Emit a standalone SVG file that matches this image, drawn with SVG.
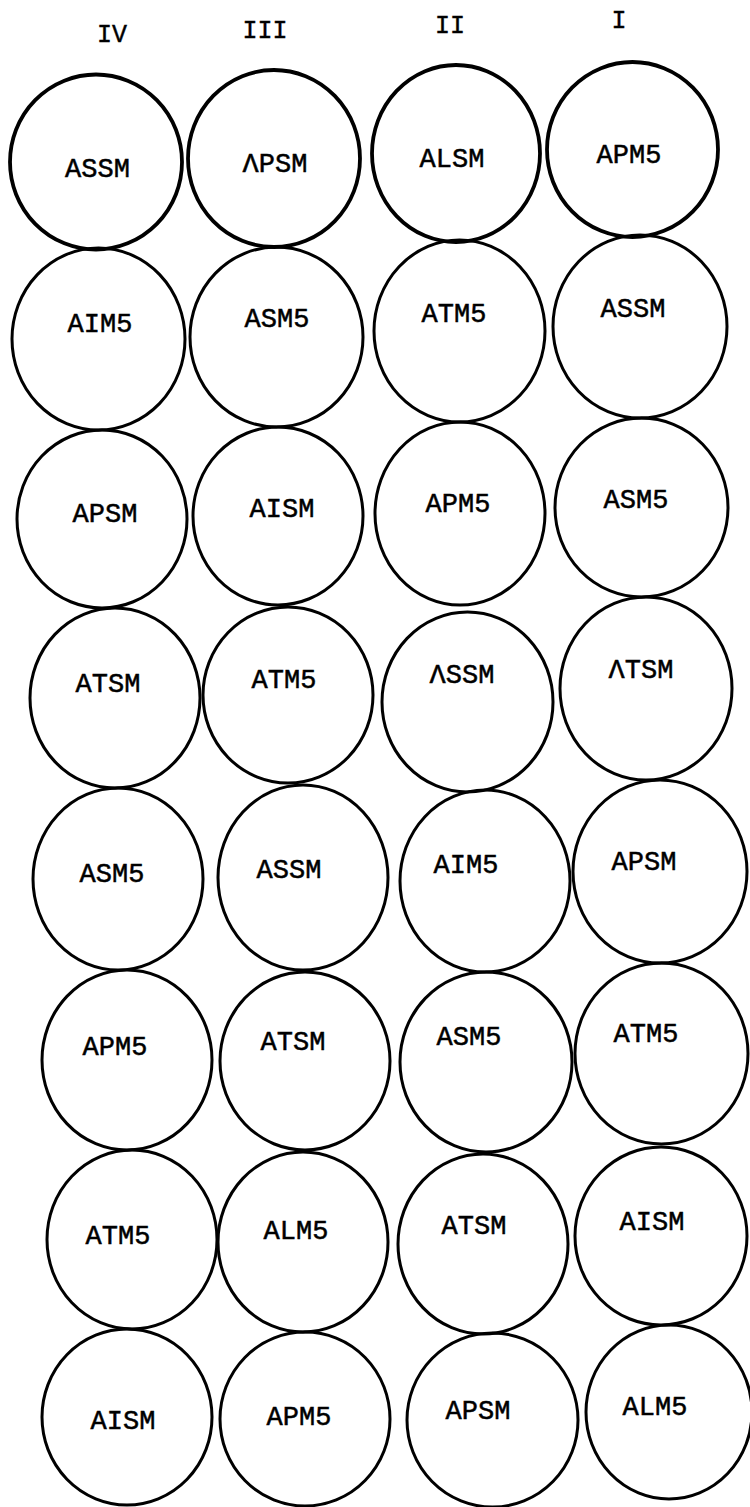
<svg xmlns="http://www.w3.org/2000/svg" width="750" height="1507" viewBox="0 0 750 1507">
<style>
.bg{fill:#fff}
.c{fill:none;stroke:#000;stroke-width:3}
.c1{stroke-width:3.8}
.t{font-family:"Liberation Mono","DejaVu Sans Mono",monospace;font-size:27px;fill:#000;stroke:#000;stroke-width:0.5;text-anchor:middle}
.h{font-family:"Liberation Mono","DejaVu Sans Mono",monospace;font-size:25px;fill:#000;stroke:#000;stroke-width:0.4;text-anchor:middle}
</style>
<rect class="bg" x="0" y="0" width="750" height="1507"/>
<g id="headers">
<text class="h" x="112" y="42">IV</text>
<text class="h" x="265" y="38">III</text>
<text class="h" x="450" y="33">II</text>
<text class="h" x="619" y="28">I</text>
</g>
<g id="connectors"></g>
<g id="r1c4"><ellipse class="c c1" cx="96" cy="162" rx="86" ry="87.5"/><text class="t" x="97.5" y="177">ASSM</text></g>
<g id="r1c3"><ellipse class="c c1" cx="274" cy="158.5" rx="86" ry="88.5"/><text class="t" x="275" y="172">ΛPSM</text></g>
<g id="r1c2"><ellipse class="c c1" cx="456" cy="153.5" rx="84" ry="88.5"/><text class="t" x="452" y="167">ALSM</text></g>
<g id="r1c1"><ellipse class="c c1" cx="632.5" cy="149.5" rx="85.5" ry="87.5"/><text class="t" x="629" y="163">APM5</text></g>

<g id="r2c4"><ellipse class="c" cx="98.5" cy="339" rx="86.5" ry="91"/><text class="t" x="100" y="332">AIM5</text></g>
<g id="r2c3"><ellipse class="c" cx="276.5" cy="337" rx="86.5" ry="90"/><text class="t" x="277" y="327">ASM5</text></g>
<g id="r2c2"><ellipse class="c" cx="459.5" cy="331" rx="85.5" ry="91"/><text class="t" x="454" y="322">ATM5</text></g>
<g id="r2c1"><ellipse class="c" cx="640" cy="326.5" rx="87" ry="91.5"/><text class="t" x="633" y="317">ASSM</text></g>

<g id="r3c4"><ellipse class="c" cx="102" cy="519" rx="85" ry="89"/><text class="t" x="105" y="522">APSM</text></g>
<g id="r3c3"><ellipse class="c" cx="278" cy="516" rx="85" ry="89"/><text class="t" x="282" y="517">AISM</text></g>
<g id="r3c2"><ellipse class="c" cx="460" cy="513.5" rx="85" ry="91.5"/><text class="t" x="458" y="512">APM5</text></g>
<g id="r3c1"><ellipse class="c" cx="641.5" cy="507.5" rx="86.5" ry="89.5"/><text class="t" x="636" y="508">ASM5</text></g>

<g id="r4c4"><ellipse class="c" cx="115" cy="698" rx="85" ry="90"/><text class="t" x="108" y="692">ATSM</text></g>
<g id="r4c3"><ellipse class="c" cx="288" cy="695" rx="85" ry="88"/><text class="t" x="284" y="688">ATM5</text></g>
<g id="r4c2"><ellipse class="c" cx="467.5" cy="702" rx="85.5" ry="90"/><text class="t" x="462" y="683">ΛSSM</text></g>
<g id="r4c1"><ellipse class="c" cx="646" cy="688.5" rx="86" ry="91.5"/><text class="t" x="641" y="678">ΛTSM</text></g>

<g id="r5c4"><ellipse class="c" cx="118" cy="879" rx="85" ry="91"/><text class="t" x="112" y="882">ASM5</text></g>
<g id="r5c3"><ellipse class="c" cx="303" cy="877.5" rx="85" ry="92.5"/><text class="t" x="289" y="878">ASSM</text></g>
<g id="r5c2"><ellipse class="c" cx="485" cy="881" rx="85" ry="91"/><text class="t" x="466" y="873">AIM5</text></g>
<g id="r5c1"><ellipse class="c" cx="660" cy="871.5" rx="87" ry="91.5"/><text class="t" x="644" y="870">APSM</text></g>

<g id="r6c4"><ellipse class="c" cx="127" cy="1060" rx="85" ry="90"/><text class="t" x="115" y="1055">APM5</text></g>
<g id="r6c3"><ellipse class="c" cx="305" cy="1061" rx="85" ry="89"/><text class="t" x="293" y="1050">ATSM</text></g>
<g id="r6c2"><ellipse class="c" cx="486" cy="1062" rx="86" ry="90"/><text class="t" x="469" y="1045">ASM5</text></g>
<g id="r6c1"><ellipse class="c" cx="661.5" cy="1053.5" rx="86.5" ry="90.5"/><text class="t" x="646" y="1042">ATM5</text></g>

<g id="r7c4"><ellipse class="c" cx="132" cy="1239.5" rx="85" ry="89.5"/><text class="t" x="118" y="1244">ATM5</text></g>
<g id="r7c3"><ellipse class="c" cx="303" cy="1242" rx="85" ry="90"/><text class="t" x="296" y="1239">ALM5</text></g>
<g id="r7c2"><ellipse class="c" cx="483" cy="1244" rx="85" ry="90"/><text class="t" x="474" y="1234">ATSM</text></g>
<g id="r7c1"><ellipse class="c" cx="661" cy="1236" rx="86" ry="89"/><text class="t" x="652" y="1230">AISM</text></g>

<g id="r8c4"><ellipse class="c" cx="127" cy="1417" rx="85" ry="88"/><text class="t" x="123" y="1429">AISM</text></g>
<g id="r8c3"><ellipse class="c" cx="305" cy="1419" rx="85" ry="87"/><text class="t" x="299" y="1425">APM5</text></g>
<g id="r8c2"><ellipse class="c" cx="492.5" cy="1420" rx="85.5" ry="87"/><text class="t" x="478" y="1419">APSM</text></g>
<g id="r8c1"><ellipse class="c" cx="669" cy="1412" rx="83" ry="87"/><text class="t" x="655" y="1415">ALM5</text></g>
</svg>
